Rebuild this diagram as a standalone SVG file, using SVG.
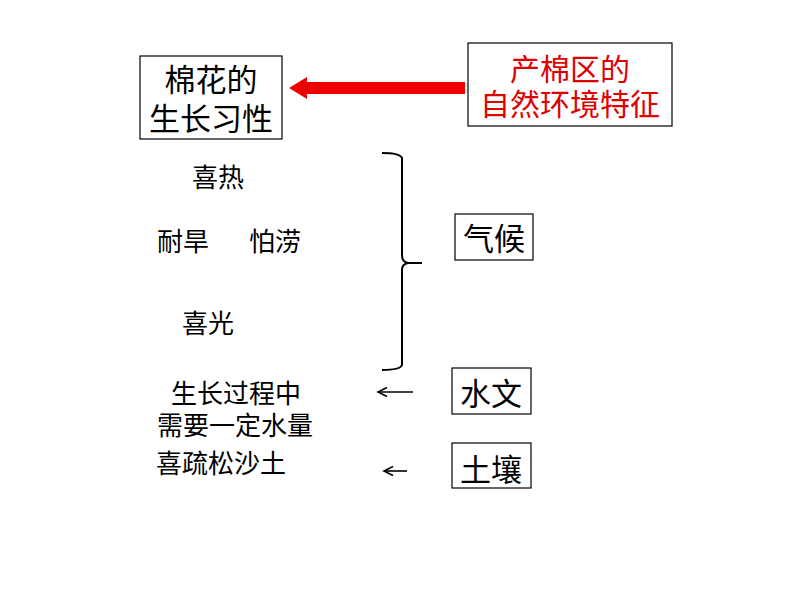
<svg xmlns="http://www.w3.org/2000/svg" width="794" height="596" viewBox="0 0 794 596">
<style>
text{font-family:"Noto Sans CJK SC","Noto Sans",sans-serif;fill:#000}
.box{fill:#fff;stroke:#000;stroke-width:1.2}
.t31{font-size:31px;text-anchor:middle}
.red{fill:#e00000}
.t26{font-size:26px}
.ln{fill:none;stroke:#000;stroke-width:2}
</style>
<defs>
<marker id="ah" markerWidth="12" markerHeight="12" refX="10" refY="6" orient="auto" markerUnits="userSpaceOnUse">
<path d="M1,1.5 L10,6 L1,10.5" fill="none" stroke="#000" stroke-width="1.6"/>
</marker>
</defs>
<rect width="794" height="596" fill="#fff"/>
<g id="habit">
<rect class="box" x="140" y="56" width="142" height="83"/>
<text class="t31" x="211" y="91">棉花的</text>
<text class="t31" x="211" y="130">生长习性</text>
</g>
<g id="env">
<rect class="box" x="468" y="43" width="204" height="83"/>
<text class="t31 red" x="570" y="80" style="font-size:30px">产棉区的</text>
<text class="t31 red" x="570" y="115" style="font-size:30px">自然环境特征</text>
</g>
<g id="climate">
<rect class="box" x="455" y="214" width="78" height="46"/>
<text class="t31" x="494" y="250">气候</text>
</g>
<g id="hydro">
<rect class="box" x="452" y="368" width="79" height="46"/>
<text class="t31" x="491" y="405">水文</text>
</g>
<g id="soil">
<rect class="box" x="452" y="443" width="79" height="45"/>
<text class="t31" x="491" y="481">土壤</text>
</g>
<g id="traits">
<text class="t26" x="192" y="187">喜热</text>
<text class="t26" x="157" y="251">耐旱</text>
<text class="t26" x="249" y="251">怕涝</text>
<text class="t26" x="182" y="333">喜光</text>
<text class="t26" x="171" y="403">生长过程中</text>
<text class="t26" x="157" y="435">需要一定水量</text>
<text class="t26" x="156" y="473">喜疏松沙土</text>
</g>
<g id="connectors">
<path d="M465,88 L305,88" stroke="#ee0000" stroke-width="12" fill="none"/>
<path d="M289,88 L307,77 L307,99 Z" fill="#ee0000"/>
<path class="ln" d="M382,153 Q400,153 402,158 L402,255 Q402,262 408,263 L422,263 M408,263 Q402,264 402,270 L402,365 Q400,370 382,370"/>
<path d="M413,392 L378,392" fill="none" stroke="#000" stroke-width="1.6" marker-end="url(#ah)"/>
<path d="M407,471 L384,471" fill="none" stroke="#000" stroke-width="1.6" marker-end="url(#ah)"/>
</g>
</svg>
